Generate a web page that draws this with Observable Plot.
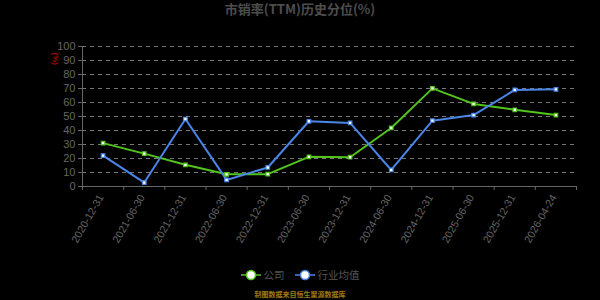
<!DOCTYPE html>
<html><head><meta charset="utf-8">
<script src="https://cdn.jsdelivr.net/npm/d3@7"></script>
<script src="https://cdn.jsdelivr.net/npm/@observablehq/plot@0.6"></script>
<style>
body{margin:0;background:#000;width:600px;height:300px;overflow:hidden;position:relative;font-family:"Noto Sans CJK SC","Noto Sans",sans-serif;}
#title{position:absolute;top:0;left:0;width:600px;text-align:center;font-size:13px;font-weight:bold;color:#4d4d4d;line-height:18px;}
#legend{position:absolute;top:268px;left:0;width:600px;height:14px;display:flex;justify-content:center;gap:10px;font-size:10.5px;color:#555;line-height:14px;}
.li{display:flex;align-items:center;gap:3px;height:14px;}
#caption{position:absolute;top:289px;left:0;width:600px;text-align:center;font-size:7px;font-weight:bold;color:#a07a10;line-height:10px;}
#chart{position:absolute;top:0;left:0;}
</style></head>
<body>
<div id="chart"></div>
<div id="title">市销率(TTM)历史分位(%)</div>
<div id="legend"></div>
<div id="caption">制图数据来自恒生聚源数据库</div>
<script>
const dates = ["2020-12-31","2021-06-30","2021-12-31","2022-06-30","2022-12-31","2023-06-30","2023-12-31","2024-06-30","2024-12-31","2025-06-30","2025-12-31","2026-04-24"];
const companyValues = [31, 23.5, 15.5, 8.7, 8.8, 21.2, 20.9, 41.8, 70.1, 59, 54.8, 51];
const industryValues = [22.1, 2.8, 48.2, 4.7, 13.6, 46.6, 45.4, 11.8, 47, 51, 69, 69.4];
const yTicks = [0,10,20,30,40,50,60,70,80,90,100];
const seriesNames = ["公司","行业均值"];
const seriesColors = ["#52c41a","#4a86e8"];

// category position: band centre of each date (index + 0.5), band edges at integers
const pos = d => dates.indexOf(d) + 0.5;
const data = [];
dates.forEach((d,i)=>{
  data.push({date:d, value:companyValues[i], series:seriesNames[0]});
  data.push({date:d, value:industryValues[i], series:seriesNames[1]});
});
const edges = d3.range(dates.length + 1);

const plot = Plot.plot({
  width:600, height:300,
  marginTop:46, marginBottom:114, marginLeft:82, marginRight:24,
  style:{background:"#000", color:"#666", fontSize:"10px", fontFamily:"Liberation Sans, Arial, sans-serif"},
  x:{type:"linear", domain:[0, dates.length], axis:null},
  y:{type:"linear", domain:[0,100], axis:null},
  color:{domain:seriesNames, range:seriesColors},
  marks:[
    Plot.ruleY(yTicks.filter(v=>v>0), {stroke:"#777", strokeDasharray:"4,4", strokeWidth:1}),
    Plot.axisY(yTicks, {tickSize:4, tickPadding:3, stroke:"#666", fill:"#666", fontSize:11, label:null}),
    Plot.ruleX([0], {stroke:"#666"}),
    Plot.ruleY([0], {stroke:"#666"}),
    Plot.ruleX(edges, {x:d=>d, y1:()=>0, y2:()=>-2.8, stroke:"#666"}),
    Plot.text(dates, {x:pos, y:0, text:d=>d, rotate:-60, textAnchor:"end", dy:9, dx:-2, fill:"#666", fontSize:10.5}),
    Plot.line(data, {x:d=>pos(d.date), y:"value", stroke:"series", strokeWidth:2}),
    Plot.dot(data, {x:d=>pos(d.date), y:"value", stroke:"series", fill:"#fff", r:2, strokeWidth:1.2, symbol:"square"}),
    Plot.text(["(%)"], {frameAnchor:"top-left", dx:-24, dy:6, rotate:90, fill:"#b00", fontSize:8, fontWeight:"bold"})
  ]
});
document.getElementById("chart").appendChild(plot);

// legend
const lg = document.getElementById("legend");
seriesNames.forEach((n,i)=>{
  const item = document.createElement("div");
  item.className="li";
  item.innerHTML = `<svg width="20" height="14"><line x1="0" y1="7" x2="20" y2="7" stroke="${seriesColors[i]}" stroke-width="1.5"/><circle cx="10" cy="7" r="4.5" fill="#fff" stroke="${seriesColors[i]}" stroke-width="1.5"/></svg><span>${n}</span>`;
  lg.appendChild(item);
});
</script>
</body></html>
